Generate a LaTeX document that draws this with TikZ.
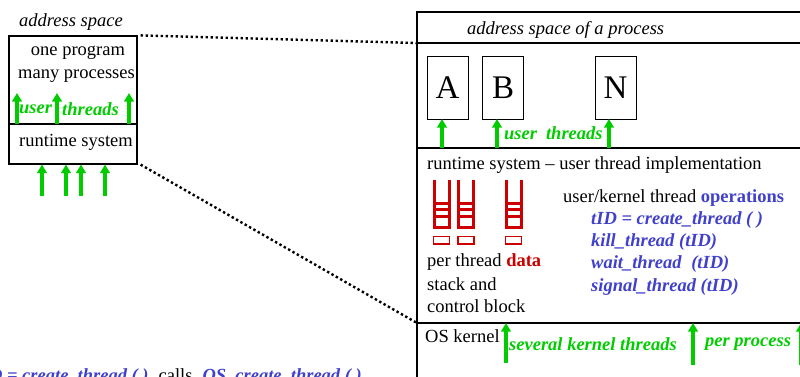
\documentclass[tikz,border=0pt]{standalone}
\usepackage{fontspec}
\setmainfont{Liberation Serif}
\usetikzlibrary{arrows.meta}
\definecolor{tgreen}{RGB}{0,204,0}
\definecolor{tblue}{RGB}{64,64,204}
\definecolor{tred}{RGB}{204,0,0}
\begin{document}
\begin{tikzpicture}[x=1pt,y=-1pt,
  garrow/.style={draw=tgreen, line width=3.2pt, -{Triangle[width=9.5pt,length=8.5pt,fill=tgreen]}},
  divider/.style={line width=2.6pt},
  dotline/.style={line width=2.4pt, dash pattern=on 2.4pt off 2.6pt},
  txt/.style={anchor=west, inner sep=0pt, font=\fontsize{18.5}{20}\selectfont},
  gtxt/.style={txt, text=tgreen, font=\fontsize{18.5}{20}\selectfont\bfseries\itshape},
  btxt/.style={txt, text=tblue, font=\fontsize{18.5}{20}\selectfont\bfseries\itshape},
  tbox/.style={draw, line width=1pt, minimum width=41pt, minimum height=63pt, inner sep=0pt, font=\fontsize{33}{35}\selectfont},
  stackline/.style={draw=tred, line width=3pt},
  tcb/.style={draw=tred, line width=1.6pt}
]
\useasboundingbox (0,0) rectangle (800,376);

% ---------- left box ----------
\node[txt, font=\fontsize{18.5}{20}\selectfont\itshape] (as) at (19,22) {address space};
\node[draw, line width=1.2pt, minimum width=128pt, minimum height=128pt, inner sep=0pt] (lbox) at (73,100) {};
\draw[divider] (lbox.west |- 0,124) -- (lbox.east |- 0,124);
\node[txt, anchor=center] (op) at (78,53) {one program};
\node[txt] (mp) at (18,76) {many processes};
\node[gtxt] (lut) at (19,109) {user};
\node[gtxt] (lth) at (62,109) {threads};
\foreach \x in {17,57,129}{
  \draw[garrow] (\x,124) -- (\x,93);
}
\node[txt] (rs) at (19,142) {runtime system};
\foreach \x in {42,66,81,105}{
  \draw[garrow] (\x,196) -- (\x,164.5);
}

% ---------- right box ----------
\coordinate (rtl) at (417,12);
\coordinate (rbl) at (417,385);
\coordinate (rtr) at (810,12);
\coordinate (rtop) at (417,43);
\coordinate (rker) at (417,323);
\draw[line width=1.6pt] (rbl) -- (rtl) -- (rtr);
\draw[line width=1.6pt] (rtop) -- (810,43);
\draw[divider] (417,148) -- (810,148);
\draw[divider] (rker) -- (810,323);

% dotted connectors
\draw[dotline] ([xshift=3pt]lbox.north east) -- (rtop);
\draw[dotline] ([xshift=3pt]lbox.south east) -- (rker);

\node[txt, font=\fontsize{18.5}{20}\selectfont\itshape] (asp) at (467,30) {address space of a process};

\node[tbox] (A) at (447.5,87.5) {A};
\node[tbox] (B) at (503,87.5) {B};
\node[tbox] (N) at (615.5,87.5) {N};
\draw[garrow] (442,148) -- (442,119);
\draw[garrow] (497,148) -- (497,119);
\draw[garrow] (609,148) -- (609,119);
\node[gtxt] (uth) at (504,133) {user\hspace{9pt}threads};

\node[txt] (rsi) at (427,165) {runtime system -- user thread implementation};

% stacks and control blocks
\foreach \x in {434,458.5,506}{
  \draw[stackline] (\x,180) -- (\x,227) -- (\x+15,227) -- (\x+15,180);
  \draw[stackline] (\x,203) -- (\x+15,203);
  \draw[stackline] (\x,209.5) -- (\x+15,209.5);
  \draw[stackline] (\x,216) -- (\x+15,216);
  \draw[tcb] (\x-0.5,236.5) rectangle (\x+15.5,244);
}

\node[txt] (ptd) at (427,262) {per thread \textcolor{tred}{\bfseries data}};
\node[txt] (sa) at (427,284) {stack and};
\node[txt] (cb) at (427,306) {control block};

\node[txt] (ukt) at (563,198) {user/kernel thread \textcolor{tblue}{\bfseries operations}};
\node[btxt] (o1) at (591,220) {tID = create\_thread ( )};
\node[btxt] (o2) at (591,242) {kill\_thread (tID)};
\node[btxt] (o3) at (591,264) {wait\_thread\hspace{5pt} (tID)};
\node[btxt] (o4) at (591,287) {signal\_thread (tID)};

\node[txt] (osk) at (425,336) {OS kernel};
\draw[garrow] (506,363) -- (506,323);
\draw[garrow] (693,365) -- (693,323);
\draw[garrow] (801,365) -- (801,323);
\node[gtxt] (skt) at (509,344) {several kernel threads};
\node[gtxt] (pp) at (705,344) {per process};

% bottom text (cut off)
\node[txt, anchor=base east] (bt) at (362,381) {\textcolor{tblue}{\bfseries\itshape tID = create\_thread ( )}\hspace{10pt}calls\hspace{10pt}\textcolor{tblue}{\bfseries\itshape OS\_create\_thread ( )}};
\end{tikzpicture}
\end{document}
